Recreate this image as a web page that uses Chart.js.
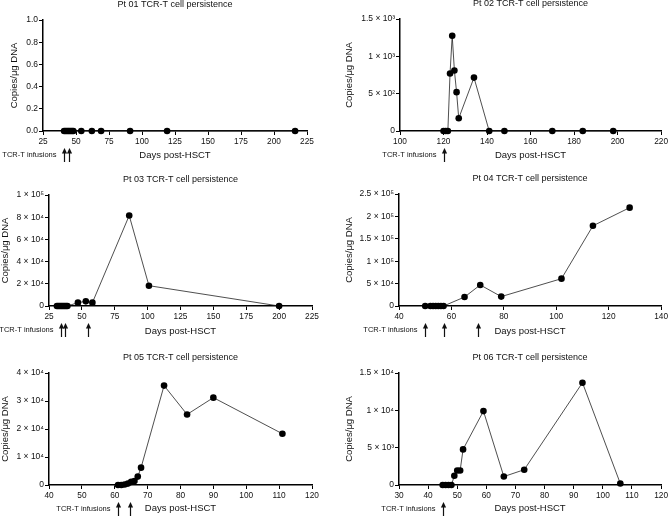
<!DOCTYPE html>
<html><head><meta charset="utf-8">
<script src="https://cdn.jsdelivr.net/npm/chart.js@4/dist/chart.umd.min.js"></script>
<style>
html,body{margin:0;padding:0;background:#fff;}
#wrap{position:relative;width:670px;height:516px;overflow:hidden;}
canvas{position:absolute;}
</style></head><body><div id="wrap">
<canvas id="c1" width="335" height="172" style="left:0;top:0"></canvas>
<canvas id="c2" width="335" height="172" style="left:335px;top:0"></canvas>
<canvas id="c3" width="335" height="172" style="left:0;top:172px"></canvas>
<canvas id="c4" width="335" height="172" style="left:335px;top:172px"></canvas>
<canvas id="c5" width="335" height="172" style="left:0;top:344px"></canvas>
<canvas id="c6" width="335" height="172" style="left:335px;top:344px"></canvas>
</div>
<script>
// ---------- DATA ----------
const pt01Days = [41,42,43,44,45,46,47,48,54,62,69,91,119,216];
const pt01Copies = [0,0,0,0,0,0,0,0,0,0,0,0,0,0];
const pt01Infusions = [41,45];
const pt01XTicks = [25,50,75,100,125,150,175,200,225];
const pt01YTicks = [0,0.2,0.4,0.6,0.8,1.0];
const pt01YLabels = ['0.0','0.2','0.4','0.6','0.8','1.0'];

const pt02Days = [120,121,122,123,124,125,126,127,134,141,148,170,184,198];
const pt02Copies = [0,0,0,770,1275,810,520,170,715,0,0,0,0,0];
const pt02Infusions = [120];
const pt02XTicks = [100,120,140,160,180,200,220];
const pt02YTicks = [0,500,1000,1500];
const pt02YLabels = ['0','5 × 10²','1 × 10³','1.5 × 10³'];

const pt03Days = [31,32,33,34,35,36,37,38,39,47,53,58,86,101,200];
const pt03Copies = [0,0,0,0,0,0,0,0,0,3000,4200,3000,81500,18300,0];
const pt03Infusions = [34,37.5,55];
const pt03XTicks = [25,50,75,100,125,150,175,200,225];
const pt03YTicks = [0,20000,40000,60000,80000,100000];
const pt03YLabels = ['0','2 × 10⁴','4 × 10⁴','6 × 10⁴','8 × 10⁴','1 × 10⁵'];

const pt04Days = [50,52,53,54,55,56,57,65,71,79,102,114,128];
const pt04Copies = [0,0,0,0,0,0,0,20000,47000,21000,61000,179000,219500];
const pt04Infusions = [50,57,70];
const pt04XTicks = [40,60,80,100,120,140];
const pt04YTicks = [0,50000,100000,150000,200000,250000];
const pt04YLabels = ['0','5 × 10⁴','1 × 10⁵','1.5 × 10⁵','2 × 10⁵','2.5 × 10⁵'];

const pt05Days = [61,62,63,64,65,66,67,68,75,82,90,111];
const pt05Copies = [0,0,200,500,1100,1400,3000,6200,35500,25200,31200,18300];
const pt05Infusions = [61,64.5];
const pt05XTicks = [40,50,60,70,80,90,100,110,120];
const pt05YTicks = [0,10000,20000,30000,40000];
const pt05YLabels = ['0','1 × 10⁴','2 × 10⁴','3 × 10⁴','4 × 10⁴'];

const pt06Days = [45,46,47,48,49,50,51,52,59,66,73,93,106];
const pt06Copies = [0,0,0,0,1230,1950,1950,4770,9900,1130,2050,13700,200];
const pt06Infusions = [45];
const pt06XTicks = [30,40,50,60,70,80,90,100,110,120];
const pt06YTicks = [0,5000,10000,15000];
const pt06YLabels = ['0','5 × 10³','1 × 10⁴','1.5 × 10⁴'];

const titles = ['Pt 01 TCR-T cell persistence','Pt 02 TCR-T cell persistence','Pt 03 TCR-T cell persistence',
  'Pt 04 TCR-T cell persistence','Pt 05 TCR-T cell persistence','Pt 06 TCR-T cell persistence'];
const xTitle = 'Days post-HSCT';
const yTitle = 'Copies/μg DNA';
const infusionLabel = 'TCR-T infusions';

// ---------- LAYOUT ----------
const FONT = "'Liberation Sans', Arial, Helvetica, sans-serif";
const W = 335, H = 172;
const panels = [
  {id:'c1', days:pt01Days, copies:pt01Copies, inf:pt01Infusions, xt:pt01XTicks, yt:pt01YTicks, yl:pt01YLabels,
   area:{left:43,right:307,top:20,bottom:131}, yTitlePad:9, xTitlePad:11},
  {id:'c2', days:pt02Days, copies:pt02Copies, inf:pt02Infusions, xt:pt02XTicks, yt:pt02YTicks, yl:pt02YLabels,
   area:{left:65,right:328,top:19,bottom:131}, yTitlePad:9, xTitlePad:11},
  {id:'c3', days:pt03Days, copies:pt03Copies, inf:pt03Infusions, xt:pt03XTicks, yt:pt03YTicks, yl:pt03YLabels,
   area:{left:49,right:312,top:23,bottom:134}, yTitlePad:0, xTitlePad:7},
  {id:'c4', days:pt04Days, copies:pt04Copies, inf:pt04Infusions, xt:pt04XTicks, yt:pt04YTicks, yl:pt04YLabels,
   area:{left:64,right:328,top:22,bottom:134}, yTitlePad:9, xTitlePad:7},
  {id:'c5', days:pt05Days, copies:pt05Copies, inf:pt05Infusions, xt:pt05XTicks, yt:pt05YTicks, yl:pt05YLabels,
   area:{left:49,right:312,top:29,bottom:141}, yTitlePad:0, xTitlePad:2},
  {id:'c6', days:pt06Days, copies:pt06Copies, inf:pt06Infusions, xt:pt06XTicks, yt:pt06YTicks, yl:pt06YLabels,
   area:{left:64,right:328,top:29,bottom:141}, yTitlePad:9, xTitlePad:2},
];

const extrasPlugin = {
  id:'extras',
  afterDraw(chart, args, opts){
    const ctx = chart.ctx, a = chart.chartArea, xs = chart.scales.x;
    ctx.save();
    ctx.fillStyle = '#111';
    ctx.textAlign = 'center';
    ctx.textBaseline = 'middle';
    ctx.font = '9px ' + FONT;
    ctx.fillText(opts.title, (a.left + a.right)/2, a.top - 15.5);
    // infusion arrows
    const yTop = a.bottom + 17, yBot = a.bottom + 31;
    ctx.strokeStyle = '#111';
    ctx.lineWidth = 1.2;
    let firstX = null;
    opts.inf.forEach(d => {
      const x = Math.round(xs.getPixelForValue(d)) + 0.5;
      if (firstX === null || x < firstX) firstX = x;
      ctx.beginPath();
      ctx.moveTo(x, yTop + 4);
      ctx.lineTo(x, yBot);
      ctx.stroke();
      ctx.beginPath();
      ctx.moveTo(x, yTop);
      ctx.lineTo(x - 2.6, yTop + 5.5);
      ctx.lineTo(x + 2.6, yTop + 5.5);
      ctx.closePath();
      ctx.fill();
    });
    ctx.textAlign = 'right';
    ctx.font = '7.5px ' + FONT;
    ctx.fillText(infusionLabel, firstX - 8, a.bottom + 24);
    ctx.restore();
  }
};

panels.forEach((p, i) => {
  const a = p.area;
  new Chart(document.getElementById(p.id), {
    type:'line',
    data:{
      datasets:[{
        data: p.days.map((d, k) => ({x:d, y:p.copies[k]})),
        borderColor:'#222', borderWidth:0.8,
        pointRadius:3.3, pointBackgroundColor:'#000', pointBorderColor:'#000', pointBorderWidth:0,
        tension:0, clip:false
      }]
    },
    options:{
      responsive:false, animation:false, devicePixelRatio:1,
      events:[],
      layout:{padding:{left:0, top:a.top, right:W - a.right, bottom:0}},
      plugins:{legend:{display:false}, tooltip:{enabled:false},
        extras:{title:titles[i], inf:p.inf}},
      scales:{
        x:{type:'linear', min:p.xt[0], max:p.xt[p.xt.length-1],
          afterBuildTicks: s => { s.ticks = p.xt.map(v => ({value:v})); },
          afterFit: s => { s.height = H - a.bottom; },
          grid:{display:true, drawOnChartArea:false, drawTicks:true, tickLength:4, color:'#000', lineWidth:1},
          border:{display:true, color:'#000', width:1.5},
          ticks:{font:{family:FONT, size:8.3}, color:'#111', padding:2, maxRotation:0, autoSkip:false,
            callback: v => String(v)},
          title:{display:true, text:xTitle, font:{family:FONT, size:9.5}, color:'#111',
            padding:{top:0, bottom:p.xTitlePad}}
        },
        y:{type:'linear', min:p.yt[0], max:p.yt[p.yt.length-1],
          afterBuildTicks: s => { s.ticks = p.yt.map(v => ({value:v})); },
          afterFit: s => { s.width = a.left; },
          grid:{display:true, drawOnChartArea:false, drawTicks:true, tickLength:4, color:'#000', lineWidth:1},
          border:{display:true, color:'#000', width:1.5},
          ticks:{font:{family:FONT, size:8.5}, color:'#111', padding:1,
            callback: (v) => { const k = p.yt.indexOf(v); return k >= 0 ? p.yl[k] : ''; }},
          title:{display:true, text:yTitle, font:{family:FONT, size:9.5}, color:'#111',
            padding:{top:p.yTitlePad, bottom:0}}
        }
      }
    },
    plugins:[extrasPlugin]
  });
});
</script></body></html>
